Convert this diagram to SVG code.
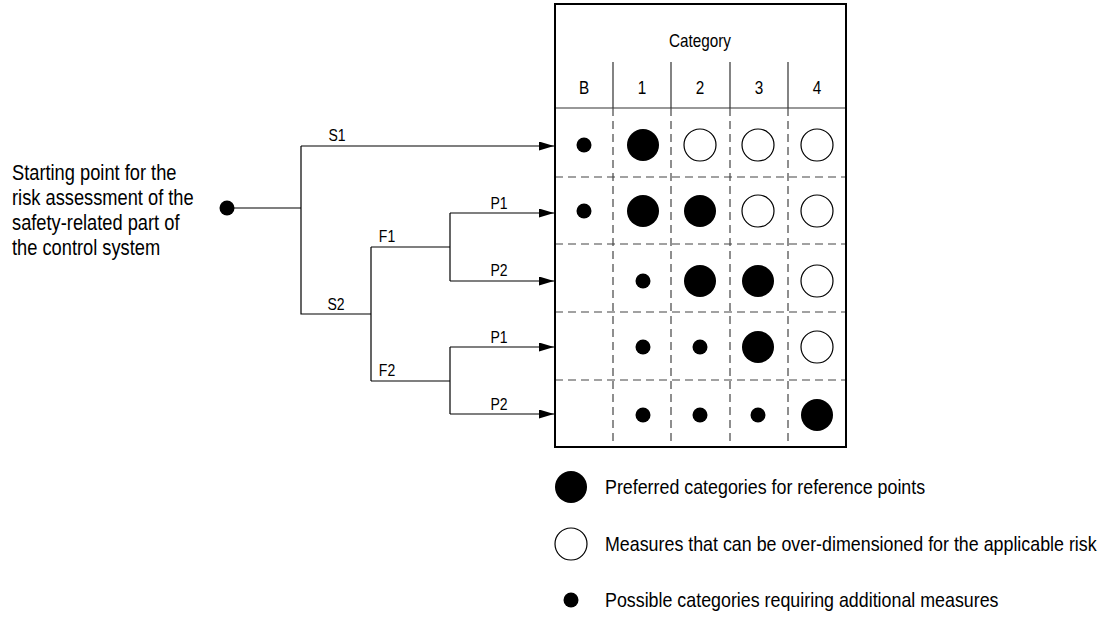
<svg xmlns="http://www.w3.org/2000/svg" width="1108" height="618" viewBox="0 0 1108 618">
<style>
text{font-family:"Liberation Sans",Arial,sans-serif;fill:#000}
.lbl{font-size:16.5px;text-anchor:middle}
.hdr{font-size:18px;text-anchor:middle}
.big{font-size:21.5px}
.leg{font-size:21px}
.ln{fill:none;stroke:#000;stroke-width:1.2}
.dash{fill:none;stroke:#444;stroke-width:1.2;stroke-dasharray:8 5}
.solid{fill:none;stroke:#333;stroke-width:1.2}
.f{fill:#000}
.o{fill:#fff;stroke:#000;stroke-width:1.2}
</style>
<defs>
<marker id="arr" markerWidth="15" markerHeight="9" refX="15" refY="4.5" orient="auto" markerUnits="userSpaceOnUse">
<path d="M0,0 L15,4.5 L0,9 Z" fill="#000"/>
</marker>
</defs>
<g id="start">
<circle cx="227" cy="208" r="7.5" class="f"/>
<text class="big" transform="translate(12,180) scale(0.85,1)">Starting point for the</text>
<text class="big" transform="translate(12,205) scale(0.85,1)">risk assessment of the</text>
<text class="big" transform="translate(12,230) scale(0.85,1)">safety-related part of</text>
<text class="big" transform="translate(12,255) scale(0.85,1)">the control system</text>
</g>
<g id="connectors">
<path class="ln" d="M227,208 H301 M301,146 V314 H371 M371,247 V381 M371,247 H450 M371,381 H450 M450,213 V281 M450,347 V414"/>
<path class="ln" d="M301,146 H554" marker-end="url(#arr)"/>
<path class="ln" d="M450,213 H554" marker-end="url(#arr)"/>
<path class="ln" d="M450,281 H554" marker-end="url(#arr)"/>
<path class="ln" d="M450,347 H554" marker-end="url(#arr)"/>
<path class="ln" d="M450,414 H554" marker-end="url(#arr)"/>
<text class="lbl" transform="translate(337,141) scale(0.85,1)">S1</text>
<text class="lbl" transform="translate(336,310) scale(0.85,1)">S2</text>
<text class="lbl" transform="translate(387,242) scale(0.85,1)">F1</text>
<text class="lbl" transform="translate(387,376) scale(0.85,1)">F2</text>
<text class="lbl" transform="translate(499,209) scale(0.85,1)">P1</text>
<text class="lbl" transform="translate(499,276) scale(0.85,1)">P2</text>
<text class="lbl" transform="translate(499,343) scale(0.85,1)">P1</text>
<text class="lbl" transform="translate(499,410) scale(0.85,1)">P2</text>
</g>
<g id="table">
<path class="solid" d="M613,62 V108 M671,62 V108 M730,62 V108 M788,62 V108 M555,108 H846"/>
<path class="dash" d="M613,108 V447 M671,108 V447 M730,108 V447 M788,108 V447"/>
<path class="dash" d="M555,177 H846 M555,244 H846 M555,312 H846 M555,380 H846"/>
<rect x="555" y="4" width="291" height="443" fill="none" stroke="#000" stroke-width="2"/>
<text class="hdr" transform="translate(700,47) scale(0.85,1)">Category</text>
<text class="hdr" transform="translate(584,94) scale(0.85,1)">B</text>
<text class="hdr" transform="translate(642,94) scale(0.85,1)">1</text>
<text class="hdr" transform="translate(700,94) scale(0.85,1)">2</text>
<text class="hdr" transform="translate(759,94) scale(0.85,1)">3</text>
<text class="hdr" transform="translate(817,94) scale(0.85,1)">4</text>
</g>
<g id="row1">
<circle cx="584" cy="145" r="7.5" class="f"/>
<circle cx="643" cy="145" r="16" class="f"/>
<circle cx="700" cy="145" r="16" class="o"/>
<circle cx="758" cy="145" r="16" class="o"/>
<circle cx="817" cy="145" r="16" class="o"/>
</g>
<g id="row2">
<circle cx="584" cy="211" r="7.5" class="f"/>
<circle cx="643" cy="211" r="16" class="f"/>
<circle cx="700" cy="211" r="16" class="f"/>
<circle cx="758" cy="211" r="16" class="o"/>
<circle cx="817" cy="211" r="16" class="o"/>
</g>
<g id="row3">
<circle cx="643" cy="281" r="7.5" class="f"/>
<circle cx="700" cy="281" r="16" class="f"/>
<circle cx="758" cy="281" r="16" class="f"/>
<circle cx="817" cy="281" r="16" class="o"/>
</g>
<g id="row4">
<circle cx="643" cy="347" r="7.5" class="f"/>
<circle cx="700" cy="347" r="7.5" class="f"/>
<circle cx="758" cy="347" r="16" class="f"/>
<circle cx="817" cy="347" r="16" class="o"/>
</g>
<g id="row5">
<circle cx="643" cy="415" r="7.5" class="f"/>
<circle cx="700" cy="415" r="7.5" class="f"/>
<circle cx="758" cy="415" r="7.5" class="f"/>
<circle cx="817" cy="415" r="16" class="f"/>
</g>
<g id="legend">
<circle cx="571" cy="487" r="16" class="f"/>
<text class="leg" transform="translate(605,494) scale(0.85,1)">Preferred categories for reference points</text>
<circle cx="571" cy="544" r="16" class="o"/>
<text class="leg" transform="translate(605,551) scale(0.85,1)">Measures that can be over-dimensioned for the applicable risk</text>
<circle cx="571" cy="600" r="7.5" class="f"/>
<text class="leg" transform="translate(605,607) scale(0.85,1)">Possible categories requiring additional measures</text>
</g>
</svg>
